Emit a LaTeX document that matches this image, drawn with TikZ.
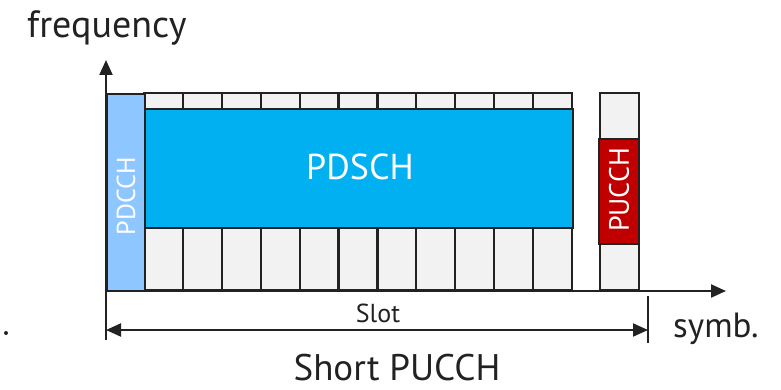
\documentclass[tikz,border=0pt]{standalone}
\usepackage{fontspec}
\setmainfont{PT Sans}
\usetikzlibrary{arrows.meta}
\definecolor{cellgrey}{HTML}{F2F2F2}
\definecolor{pdsch}{HTML}{00B0F0}
\definecolor{pdcch}{HTML}{8EC6FF}
\definecolor{pucch}{HTML}{C00000}
\definecolor{ink}{HTML}{222222}
\begin{document}
\begin{tikzpicture}[x=1pt,y=-1pt,
  cell/.style={draw=ink,line width=2.2pt,fill=cellgrey},
  axis/.style={draw=ink,line width=2.2pt,-{Triangle[length=15pt,width=13pt]}},
  dim/.style={draw=ink,line width=2pt,{Triangle[length=15pt,width=13pt]}-{Triangle[length=15pt,width=13pt]}},
  lbl/.style={inner sep=0pt,text=ink}]
\useasboundingbox (0,0) rectangle (781,390);
% columns
\foreach \i in {0,...,10}{
  \draw[cell] ({144+\i*38.9},93) rectangle ({144+(\i+1)*38.9},290);
}
\draw[cell] (600,93) rectangle (639,290);
% PDSCH
\node[draw=ink,line width=2.2pt,fill=pdsch,minimum width=428pt,minimum height=119pt,anchor=north west,inner sep=0pt] (pdsch) at (144,108) {};
\node[inner sep=0pt,anchor=base,text=white,font=\fontsize{36}{36}\selectfont] (pdschl) at (360,179) {PDSCH};
% PDCCH
\node[draw=ink,line width=2.2pt,fill=pdcch,minimum width=38pt,minimum height=197pt,anchor=north west,inner sep=0pt] (pdcch) at (106,93) {};
\node[rotate=90,inner sep=0pt,text=white,font=\fontsize{26}{26}\selectfont] (pdcchl) at (126,196) {PDCCH};
% PUCCH
\node[draw=ink,line width=2.2pt,fill=pucch,minimum width=40pt,minimum height=105pt,anchor=north west,inner sep=0pt] (pucch) at (598,138) {};
\node[rotate=90,inner sep=0pt,text=white,font=\fontsize{28}{28}\selectfont] (pucchl) at (619,190) {PUCCH};
% axes
\coordinate (o) at (106,291);
\coordinate (ytip) at (106,60);
\coordinate (xtip) at (726,291);
\draw[axis] (o) -- (ytip);
\draw[axis] (o) -- (xtip);
% slot dimension
\coordinate (s0) at (106,291);
\coordinate (s0b) at (106,340);
\coordinate (s1) at (648,296);
\coordinate (s1b) at (648,343);
\draw[ink,line width=2pt] (s0) -- (s0b);
\draw[ink,line width=2pt] (s1) -- (s1b);
\coordinate (a0) at (106,330);
\coordinate (a1) at (648,330);
\draw[dim] (a0) -- (a1);
\node[lbl,anchor=base,font=\fontsize{26}{26}\selectfont] (slot) at (378,322) {Slot};
\node[lbl,anchor=base west,font=\fontsize{35}{35}\selectfont] (symb) at (673,337) {symb.};
\node[lbl,anchor=base,font=\fontsize{37}{37}\selectfont] (short) at (397,380) {Short PUCCH};
\node[lbl,anchor=base west,font=\fontsize{38}{38}\selectfont] (freq) at (27,38) {frequency};
\fill[ink] (6,333) circle (2pt);
\end{tikzpicture}
\end{document}
